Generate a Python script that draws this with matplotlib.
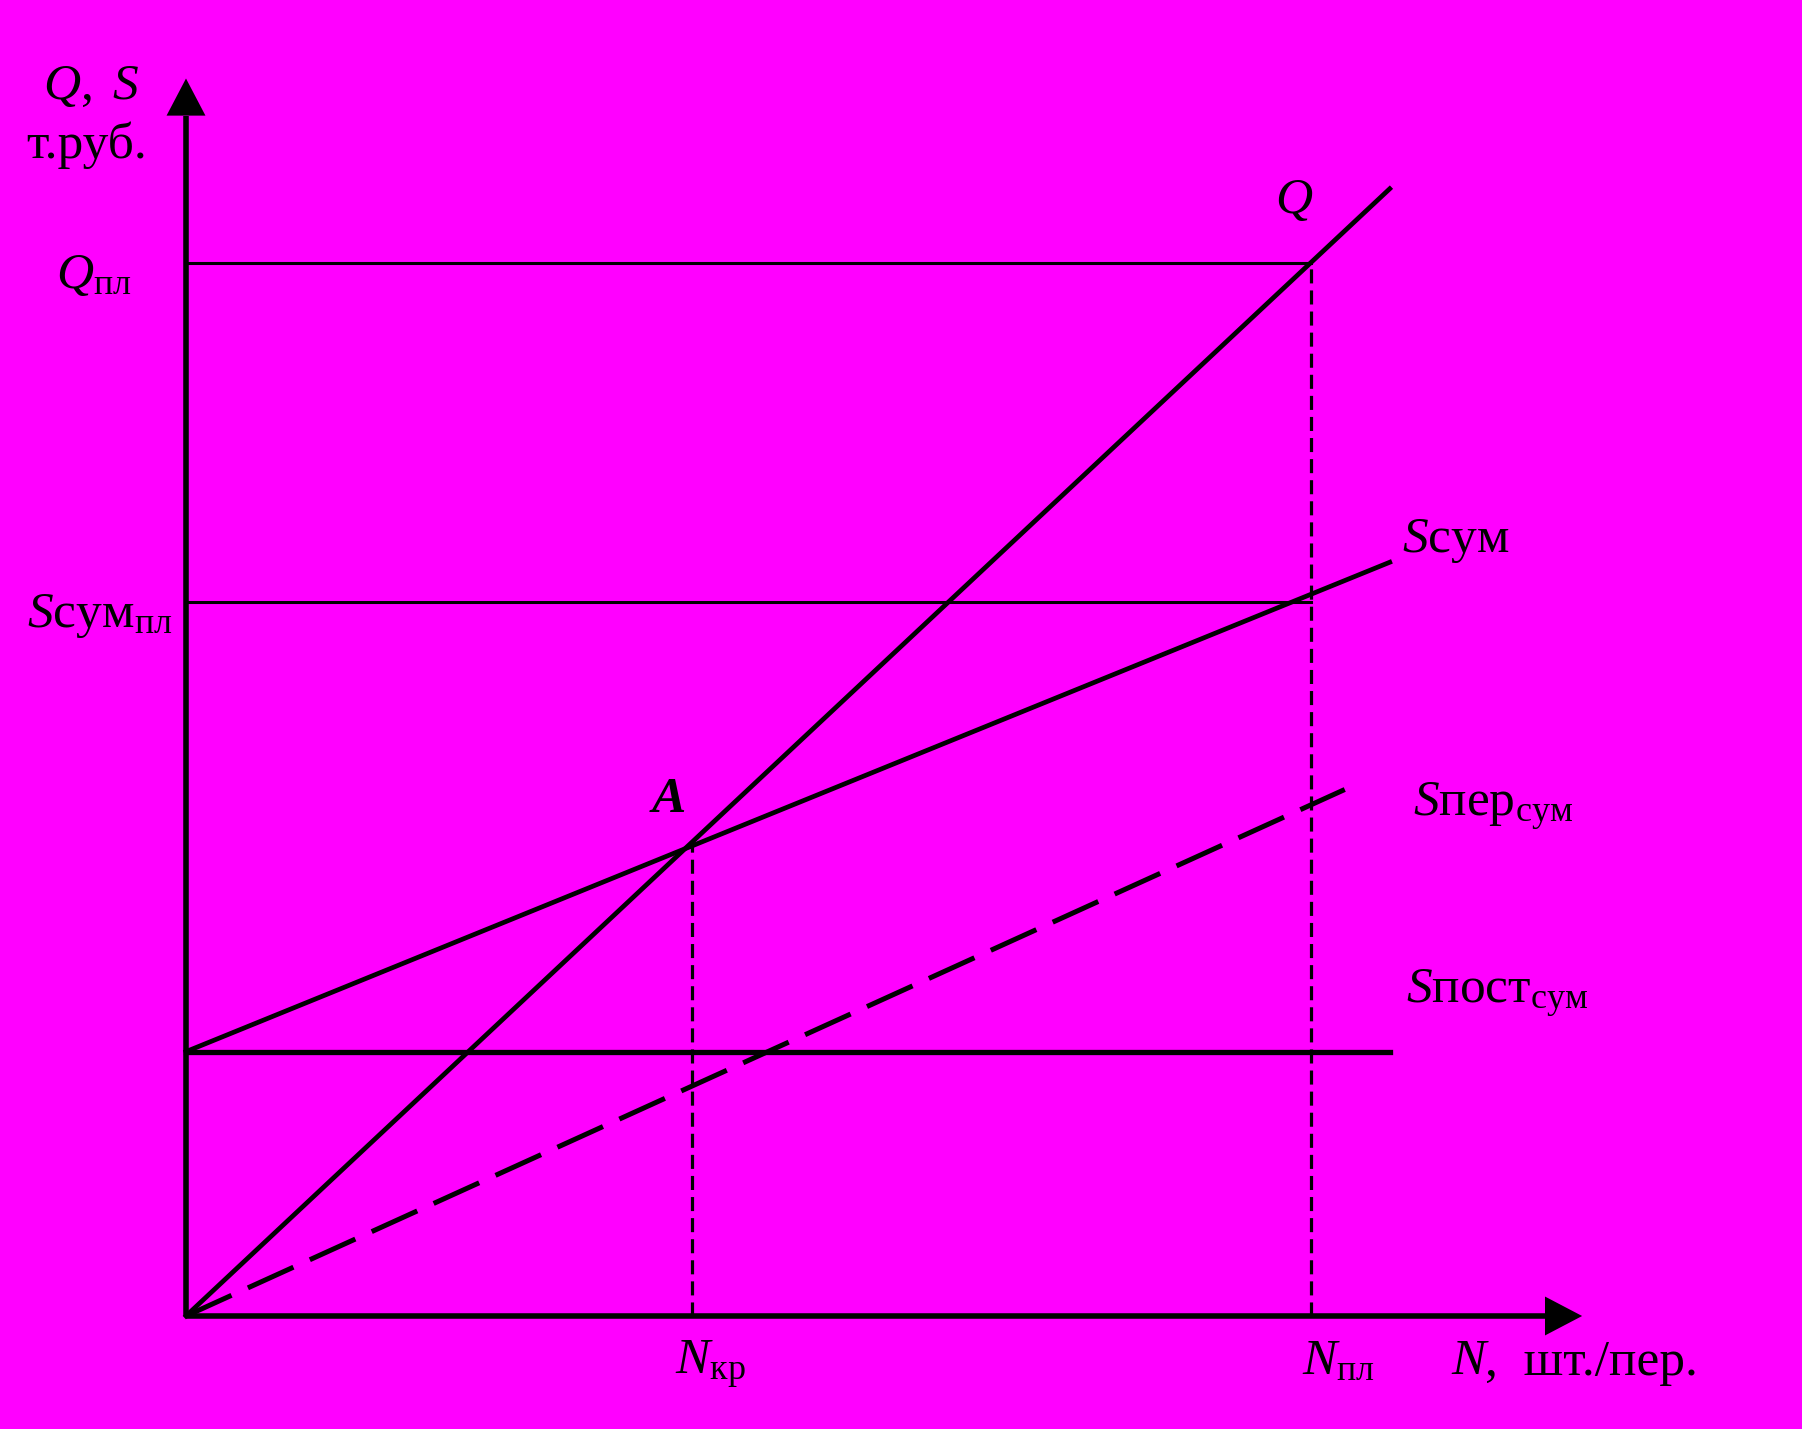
import matplotlib
matplotlib.use('Agg')
from matplotlib import pyplot as plt

plt.rcParams['font.family'] = ['Liberation Serif', 'DejaVu Serif']
plt.rcParams['mathtext.fontset'] = 'custom'
plt.rcParams['mathtext.rm'] = 'Liberation Serif'
plt.rcParams['mathtext.it'] = 'Liberation Serif:italic'
plt.rcParams['mathtext.bf'] = 'Liberation Serif:bold:italic'

# values (scheme units)
n_ends = [0, 107]          # N range of solid lines
q_vals = [0, 100.2]        # revenue Q
s_sum = [23.5, 67.0]       # total cost
s_post = [23.5, 23.5]      # fixed cost
n_per = [0, 103]
s_per = [0, 46.8]          # variable cost
n_kr = 45
n_pl = 100
q_pl = 93.6
s_sum_pl = 63.5
y_tip = 110.0
x_tip = 124.1

bg = '#FF00FF'
fig = plt.figure(figsize=(18.02, 14.29), dpi=100, facecolor=bg)
ax = fig.add_axes([0, 0, 1, 1])
ax.set_facecolor(bg)
ax.set_xlim(-186 / 11.25, (1802 - 186) / 11.25)
ax.set_ylim((1316 - 1429) / 11.25, 1316 / 11.25)
ax.axis('off')

# axes with arrow heads
hl, hw = 3.3, 1.73
ax.plot([0, 0], [0, y_tip - hl], color='k', lw=4.0, solid_capstyle='butt')
ax.fill([-hw, hw, 0], [y_tip - hl, y_tip - hl, y_tip], color='k', lw=0)
ax.plot([0, x_tip - hl], [0, 0], color='k', lw=4.0, solid_capstyle='butt')
ax.fill([x_tip - hl, x_tip - hl, x_tip], [-hw, hw, 0], color='k', lw=0)

# main lines
ax.plot(n_ends, q_vals, color='k', lw=3.4)
ax.plot(n_ends, s_sum, color='k', lw=3.4)
ax.plot(n_ends, s_post, color='k', lw=3.8)
ax.plot(n_per, s_per, color='k', lw=3.6, linestyle=(0, (10, 3.6)), dash_capstyle='butt')

# plan levels
ax.plot([0, n_pl], [q_pl, q_pl], color='k', lw=2.2)
ax.plot([0, n_pl], [s_sum_pl, s_sum_pl], color='k', lw=2.2)
price = q_vals[1] / n_ends[1]
ax.plot([n_kr, n_kr], [0, price * n_kr], color='k', lw=2.3, linestyle=(0, (4.4, 2.2)))
ax.plot([n_pl, n_pl], [0, q_pl], color='k', lw=2.3, linestyle=(0, (4.4, 2.2)))

fs = 37
ax.text(-8.4, 108.2, '$\\mathit{Q}\\mathrm{,\\ }\\mathit{S}$', fontsize=fs, ha='center', va='baseline')
ax.text(-8.8, 102.9, 'т.руб.', fontsize=fs, ha='center', va='baseline')
ax.text(-11.6, 91.4, '$\\mathit{Q}_{\\mathrm{пл}}$', fontsize=fs, ha='left', va='baseline')
ax.text(-14.1, 61.2, '$\\mathit{S}\\mathrm{сум}_{\\mathrm{пл}}$', fontsize=fs, ha='left', va='baseline')
ax.text(108.1, 67.9, '$\\mathit{S}\\mathrm{сум}$', fontsize=fs, ha='left', va='baseline')
ax.text(109.1, 44.4, '$\\mathit{S}\\mathrm{пер}_{\\mathrm{сум}}$', fontsize=fs, ha='left', va='baseline')
ax.text(108.4, 27.8, '$\\mathit{S}\\mathrm{пост}_{\\mathrm{сум}}$', fontsize=fs, ha='left', va='baseline')
ax.text(43.5, -5.2, '$\\mathit{N}_{\\mathrm{кр}}$', fontsize=fs, ha='left', va='baseline')
ax.text(99.2, -5.2, '$\\mathit{N}_{\\mathrm{пл}}$', fontsize=fs, ha='left', va='baseline')
ax.text(112.5, -5.2, 'N', fontsize=fs, ha='left', va='baseline', fontstyle='italic')
ax.text(115.5, -5.2, ',  шт./пер.', fontsize=fs, ha='left', va='baseline')
ax.text(41.4, 44.8, 'A', fontsize=fs, ha='left', va='baseline', fontweight='bold', fontstyle='italic')
ax.text(96.8, 98.0, 'Q', fontsize=fs, ha='left', va='baseline', fontstyle='italic')

fig.savefig('out.png', dpi=100, facecolor=bg)
